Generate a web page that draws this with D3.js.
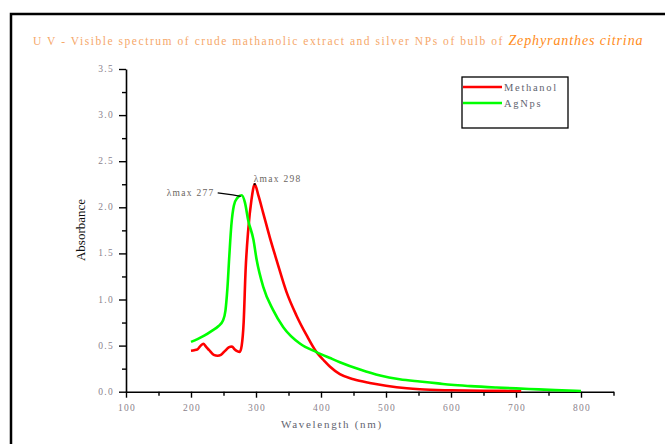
<!DOCTYPE html>
<html>
    <head>
        <script src="https://d3js.org/d3.v7.min.js"></script>
        <style>
            body { margin: 0; background: #fff; }
            text { font-family: "Liberation Serif", "DejaVu Serif", serif; }
        </style>
    </head>

    <body>
        <div id = "target"></div>

        <script>
            // methanol extract (red)
            var methWave = [200, 205, 210, 215, 219, 223, 228, 235, 241, 246, 252, 258, 263, 267, 271, 275, 278, 281, 284, 288, 293, 298, 304, 311, 321, 332, 347, 362, 378, 393, 405, 414, 429, 450, 475, 500, 532, 552, 600, 650, 708];
            var methAbs  = [0.445, 0.45, 0.46, 0.50, 0.52, 0.49, 0.45, 0.40, 0.39, 0.40, 0.44, 0.48, 0.49, 0.46, 0.44, 0.43, 0.50, 0.75, 1.32, 1.75, 2.08, 2.25, 2.12, 1.94, 1.68, 1.42, 1.08, 0.83, 0.61, 0.43, 0.335, 0.27, 0.19, 0.135, 0.095, 0.065, 0.037, 0.026, 0.015, 0.01, 0.008];

            // silver nanoparticles (green)
            var agWave = [200, 210, 221, 232, 242, 249, 253, 256, 259, 262, 266, 271, 278, 283, 288, 296, 301, 311, 326, 342, 368, 393, 414, 429, 460, 491, 521, 552, 580, 600, 630, 670, 720, 760, 800];
            var agAbs  = [0.54, 0.57, 0.61, 0.66, 0.71, 0.77, 0.88, 1.12, 1.48, 1.80, 2.02, 2.10, 2.13, 2.05, 1.86, 1.65, 1.43, 1.14, 0.89, 0.70, 0.52, 0.43, 0.365, 0.32, 0.24, 0.175, 0.135, 0.11, 0.09, 0.075, 0.06, 0.045, 0.03, 0.017, 0.008];

            var xTicks = [100, 200, 300, 400, 500, 600, 700, 800];
            var yTicks = [0.0, 0.5, 1.0, 1.5, 2.0, 2.5, 3.0, 3.5];
            var seriesNames = ['Methanol', 'AgNps'];
            var seriesColors = ['#ff0000', '#00ff00'];
            var peaks = [{label: 'λmax 298', wave: 298, abs: 2.25}, {label: 'λmax 277', wave: 278, abs: 2.13}];

            var width = 665, height = 444;

            var graph = d3.select('#target')
                        .append('svg')
                        .attr('width', width)
                        .attr('height', height);

            // outer frame (runs off right and bottom)
            graph.append('rect')
                .attr('x', 11).attr('y', 14)
                .attr('width', 700).attr('height', 500)
                .attr('fill', 'none')
                .attr('stroke', '#000')
                .attr('stroke-width', 2.5);

            // title
            var title = graph.append('text')
                .attr('x', 33).attr('y', 45)
                .attr('font-size', 11.5)
                .attr('letter-spacing', 1.55)
                .attr('fill', '#f6a86a');
            title.append('tspan').text('U V - Visible spectrum of crude mathanolic extract and silver NPs of bulb of ');
            title.append('tspan')
                .attr('font-style', 'italic')
                .attr('font-size', 14)
                .attr('letter-spacing', 0.9)
                .attr('fill', '#ff8c1a')
                .text('Zephyranthes citrina');

            var x = d3.scaleLinear()
                .domain([100, 850])
                .range([126, 613.5]);

            var y = d3.scaleLinear()
                .domain([0, 3.5])
                .range([391.7, 69]);

            // y axis
            var yAxis = d3.axisLeft(y)
                .tickValues(d3.range(0, 3.5001, 0.25))
                .tickSize(0)
                .tickFormat('');
            var gy = graph.append('g')
                .attr('transform', 'translate(' + x(100) + ',0)')
                .call(yAxis);
            gy.select('.domain').attr('stroke', '#000').attr('stroke-width', 1.6);
            gy.selectAll('.tick line')
                .attr('x2', function(d) { return (Math.round(d * 100) % 50 === 0) ? -7 : -4; })
                .attr('stroke', '#000').attr('stroke-width', 1.4);

            graph.append('g').selectAll('text')
                .data(yTicks)
                .enter()
                .append('text')
                .attr('x', 114)
                .attr('y', function(d) { return y(d) + 3; })
                .attr('text-anchor', 'end')
                .attr('font-size', 9.5)
                .attr('letter-spacing', 1.3)
                .attr('fill', '#8a7f8c')
                .text(function(d) { return d.toFixed(1); });

            // x axis
            var xAxis = d3.axisBottom(x)
                .tickValues(d3.range(100, 850.1, 50))
                .tickSize(0)
                .tickFormat('');
            var gx = graph.append('g')
                .attr('transform', 'translate(0,' + y(0) + ')')
                .call(xAxis);
            gx.select('.domain').attr('stroke', '#000').attr('stroke-width', 1.6);
            gx.selectAll('.tick line')
                .attr('y2', function(d) { return (d % 100 === 0) ? 6 : 4; })
                .attr('stroke', '#000').attr('stroke-width', 1.4);

            graph.append('g').selectAll('text')
                .data(xTicks)
                .enter()
                .append('text')
                .attr('x', function(d) { return x(d) + 1; })
                .attr('y', 411)
                .attr('text-anchor', 'middle')
                .attr('font-size', 9.5)
                .attr('letter-spacing', 1.3)
                .attr('fill', '#8a7f8c')
                .text(function(d) { return d; });

            // axis titles
            graph.append('text')
                .attr('x', 332).attr('y', 428)
                .attr('text-anchor', 'middle')
                .attr('font-size', 11)
                .attr('letter-spacing', 1.7)
                .attr('fill', '#5f6470')
                .text('Wavelength (nm)');

            graph.append('text')
                .attr('transform', 'translate(85,' + 230 + ')rotate(-90)')
                .attr('text-anchor', 'middle')
                .attr('font-size', 13)
                .attr('fill', '#111')
                .text('Absorbance');

            // curves
            var line = d3.line()
                .x(function(d) { return x(d[0]); })
                .y(function(d) { return y(d[1]); })
                .curve(d3.curveMonotoneX);

            var series = [d3.zip(methWave, methAbs), d3.zip(agWave, agAbs)];

            graph.append('g').selectAll('path')
                .data(series)
                .enter()
                .append('path')
                .attr('d', line)
                .attr('fill', 'none')
                .attr('stroke', function(d, i) { return seriesColors[i]; })
                .attr('stroke-width', 2.6)
                .attr('stroke-linejoin', 'round');

            // peak annotations
            var p1 = peaks[0];
            graph.append('text')
                .attr('x', x(p1.wave) - 1)
                .attr('y', y(p1.abs) - 2)
                .attr('font-size', 9.5)
                .attr('letter-spacing', 1.3)
                .attr('fill', '#6a6560')
                .text(p1.label);
            graph.append('rect')
                .attr('x', x(p1.wave) - 1).attr('y', y(p1.abs) - 1)
                .attr('width', 2).attr('height', 2)
                .attr('fill', '#000');

            var p2 = peaks[1];
            graph.append('polyline')
                .attr('points', [
                    [x(p2.wave) - 24, y(p2.abs) - 2.5],
                    [x(p2.wave) - 9, y(p2.abs) - 0.5],
                    [x(p2.wave) - 1, y(p2.abs) + 1]
                ].join(' '))
                .attr('fill', 'none')
                .attr('stroke', '#000')
                .attr('stroke-width', 1.2);
            graph.append('text')
                .attr('x', x(p2.wave) - 27)
                .attr('y', y(p2.abs) + 1)
                .attr('text-anchor', 'end')
                .attr('font-size', 9.5)
                .attr('letter-spacing', 1.3)
                .attr('fill', '#6a6560')
                .text(p2.label);

            // legend
            var legend = graph.append('g');
            legend.append('rect')
                .attr('x', 462).attr('y', 77)
                .attr('width', 106).attr('height', 51)
                .attr('fill', '#fff')
                .attr('stroke', '#000')
                .attr('stroke-width', 1.3);

            var item = legend.selectAll('g')
                .data(seriesNames)
                .enter()
                .append('g')
                .attr('transform', function(d, i) { return 'translate(0,' + (87 + i * 16) + ')'; });
            item.append('line')
                .attr('x1', 463).attr('x2', 502)
                .attr('stroke', function(d, i) { return seriesColors[i]; })
                .attr('stroke-width', 2.6);
            item.append('text')
                .attr('x', 504).attr('y', 3.5)
                .attr('font-size', 10.5)
                .attr('letter-spacing', 1.7)
                .attr('fill', '#5f6470')
                .text(function(d) { return d; });
        </script>
    </body>
</html>
